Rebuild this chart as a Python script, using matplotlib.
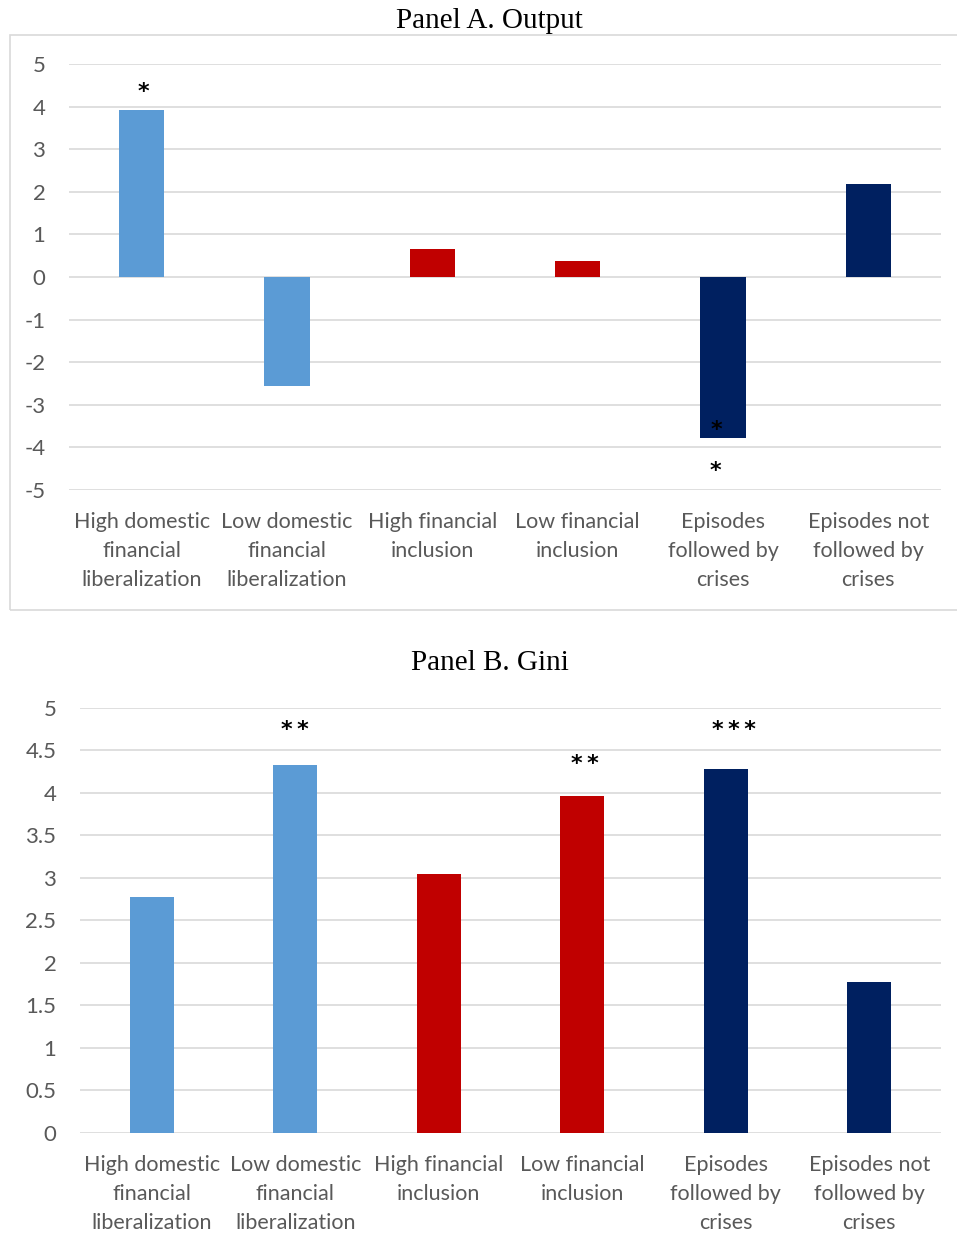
import matplotlib
matplotlib.use("Agg")
import matplotlib.pyplot as plt
from matplotlib.patches import Rectangle

# categorias y valores
categorias = [
    "High domestic\nfinancial\nliberalization",
    "Low domestic\nfinancial\nliberalization",
    "High financial\ninclusion",
    "Low financial\ninclusion",
    "Episodes\nfollowed by\ncrises",
    "Episodes not\nfollowed by\ncrises",
]
colores = ["#5B9BD5", "#5B9BD5", "#C00000", "#C00000", "#002060", "#002060"]

output_vals = [3.92, -2.56, 0.66, 0.38, -3.78, 2.18]
gini_vals = [2.77, 4.33, 3.04, 3.96, 4.28, 1.78]

output_ticks = [-5, -4, -3, -2, -1, 0, 1, 2, 3, 4, 5]
gini_ticks = [0, 0.5, 1, 1.5, 2, 2.5, 3, 3.5, 4, 4.5, 5]

# marcas de significancia: (indice, y, texto)
output_stars = [(0, 4.46, "*"), (4, -3.47, "*"), (4, -4.45, "*")]
gini_stars = [(1, 4.79, "**"), (3, 4.39, "**"), (4, 4.79, "***")]
# corrimiento horizontal de cada marca (en puntos), como en el original
output_dx = [1, -4.5, -5.5]
gini_dx = [0, 2, 6]

GRIS = "#595959"
GRID = "#D9D9D9"
FUENTE = "Lato"

W, H = 957, 1237
fig = plt.figure(figsize=(W / 100, H / 100), dpi=100)


def caja(px_l, px_t, px_r, px_b):
    return [px_l / W, 1 - px_b / H, (px_r - px_l) / W, (px_b - px_t) / H]


def panel(ax, vals, ticks, stars, dxs, ylim):
    x = list(range(len(vals)))
    ax.bar(x, vals, width=0.31, color=colores, zorder=3)
    ax.set_xlim(-0.5, len(vals) - 0.5)
    ax.set_ylim(*ylim)
    ax.set_yticks(ticks)
    ax.set_yticklabels([f"{t:g}" for t in ticks])
    ax.set_xticks(x)
    ax.set_xticklabels(categorias, linespacing=1.55)
    for s in ax.spines.values():
        s.set_visible(False)
    ax.yaxis.grid(True, color=GRID, linewidth=1.2, zorder=0)
    ax.set_axisbelow(True)
    ax.tick_params(axis="y", length=0, pad=17, labelsize=16, labelcolor=GRIS)
    ax.tick_params(axis="x", length=0, pad=16, labelsize=15.5, labelcolor=GRIS)
    for lab in ax.get_xticklabels() + ax.get_yticklabels():
        lab.set_fontfamily(FUENTE)
    for (i, y, txt), dx in zip(stars, dxs):
        # el asterisco queda alto en la caja de texto: bajar la linea base
        ax.annotate("\u2009".join(txt), (i, y), xytext=(dx, -7.7),
                    textcoords="offset points", ha="center", va="baseline",
                    fontsize=16, fontweight="bold", color="black",
                    family="DejaVu Sans", zorder=4)


# Panel A
ax1 = fig.add_axes(caja(69, 64, 941, 490))
panel(ax1, output_vals, output_ticks, output_stars, output_dx, (-5, 5))
fig.patches.append(Rectangle((10 / W, 1 - 610 / H), 960 / W, 575 / H,
                             transform=fig.transFigure, fill=False,
                             edgecolor=GRID, linewidth=1.2, zorder=0))
fig.text(489.5 / W, 1 - 28 / H, "Panel A. Output", ha="center", va="baseline",
         fontsize=21, family="Liberation Serif", color="black")

# Panel B
ax2 = fig.add_axes(caja(80, 707.7, 941, 1133))
panel(ax2, gini_vals, gini_ticks, gini_stars, gini_dx, (0, 5))
fig.text(489.5 / W, 1 - 670 / H, "Panel B. Gini", ha="center", va="baseline",
         fontsize=21, family="Liberation Serif", color="black")

fig.savefig("out.png", dpi=100, facecolor="white")
